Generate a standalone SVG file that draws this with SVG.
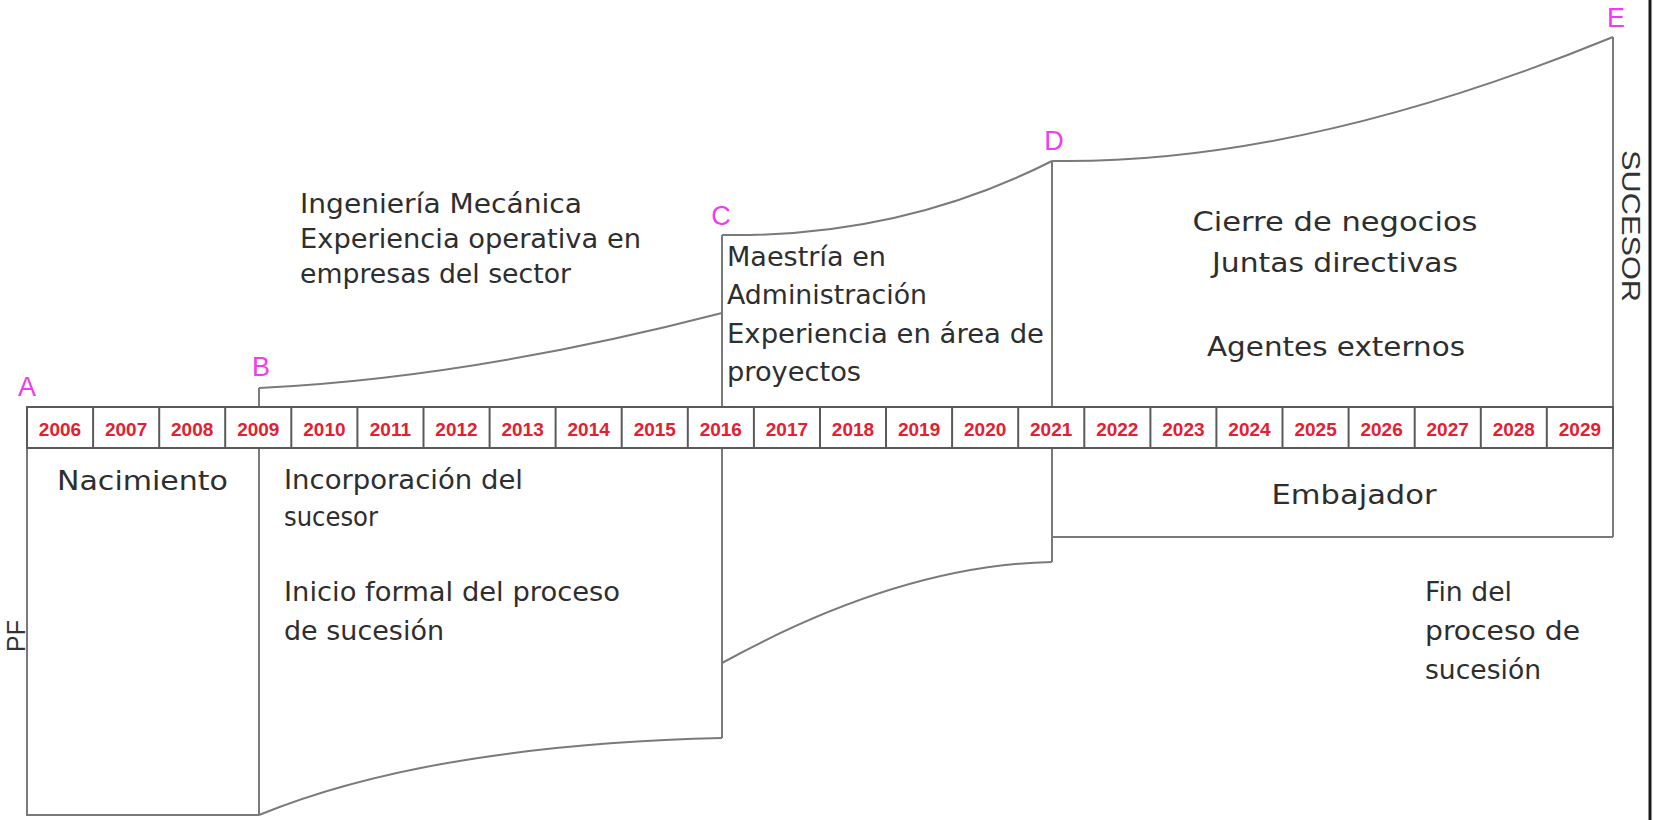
<svg xmlns="http://www.w3.org/2000/svg" width="1653" height="820" viewBox="0 0 1653 820">
<style>
.bg{fill:#ffffff}
.edge{fill:none;stroke:#7a7a7a;stroke-width:2}
.cell{fill:#ffffff;stroke:#5a5a5a;stroke-width:2}
.yr{font-family:"Liberation Sans",Arial,sans-serif;font-size:19px;font-weight:bold;fill:#e3202f;text-anchor:middle}
.pt{font-family:"Liberation Sans",Arial,sans-serif;font-size:27px;fill:#f03cf0;text-anchor:middle}
.tx{font-family:"DejaVu Sans","Liberation Sans",sans-serif;font-size:26px;fill:#2e2e2e}
.mid{text-anchor:middle}
.side{font-family:"Liberation Sans",Arial,sans-serif;font-size:25px;fill:#333333}
</style>
<rect class="bg" x="0" y="0" width="1653" height="820"/>

<g id="connectors">
  <!-- segment A-B -->
  <path class="edge" d="M27,448 V815 H259"/>
  <!-- B vertical -->
  <path class="edge" d="M259,388 V815"/>
  <!-- B-C upper and lower curves -->
  <path class="edge" d="M259,388 Q470,378 722,313"/>
  <path class="edge" d="M259,815 Q430,745 722,738"/>
  <!-- C vertical -->
  <path class="edge" d="M722,235 V738"/>
  <!-- C-D curves -->
  <path class="edge" d="M722,235 Q900,238 1052,161"/>
  <path class="edge" d="M722,663 Q900,565 1052,562"/>
  <!-- D vertical -->
  <path class="edge" d="M1052,161 V562"/>
  <!-- D-E -->
  <path class="edge" d="M1052,161 Q1300,165 1613,37"/>
  <path class="edge" d="M1052,537 H1613"/>
  <!-- E vertical -->
  <path class="edge" d="M1613,37 V537"/>
  <!-- right border -->
  <line x1="1650" y1="0" x2="1650" y2="820" stroke="#1a1a1a" stroke-width="3"/>
</g>

<g id="timeline">
  <rect class="cell" x="27" y="407" width="1586" height="41"/>
  <g stroke="#5a5a5a" stroke-width="2">
    <line x1="93.1" y1="407" x2="93.1" y2="448"/>
    <line x1="159.2" y1="407" x2="159.2" y2="448"/>
    <line x1="225.2" y1="407" x2="225.2" y2="448"/>
    <line x1="291.3" y1="407" x2="291.3" y2="448"/>
    <line x1="357.4" y1="407" x2="357.4" y2="448"/>
    <line x1="423.5" y1="407" x2="423.5" y2="448"/>
    <line x1="489.6" y1="407" x2="489.6" y2="448"/>
    <line x1="555.6" y1="407" x2="555.6" y2="448"/>
    <line x1="621.7" y1="407" x2="621.7" y2="448"/>
    <line x1="687.8" y1="407" x2="687.8" y2="448"/>
    <line x1="753.9" y1="407" x2="753.9" y2="448"/>
    <line x1="820.0" y1="407" x2="820.0" y2="448"/>
    <line x1="886.0" y1="407" x2="886.0" y2="448"/>
    <line x1="952.1" y1="407" x2="952.1" y2="448"/>
    <line x1="1018.2" y1="407" x2="1018.2" y2="448"/>
    <line x1="1084.3" y1="407" x2="1084.3" y2="448"/>
    <line x1="1150.4" y1="407" x2="1150.4" y2="448"/>
    <line x1="1216.4" y1="407" x2="1216.4" y2="448"/>
    <line x1="1282.5" y1="407" x2="1282.5" y2="448"/>
    <line x1="1348.6" y1="407" x2="1348.6" y2="448"/>
    <line x1="1414.7" y1="407" x2="1414.7" y2="448"/>
    <line x1="1480.8" y1="407" x2="1480.8" y2="448"/>
    <line x1="1546.8" y1="407" x2="1546.8" y2="448"/>
  </g>
  <text class="yr" x="60.0" y="436">2006</text>
  <text class="yr" x="126.1" y="436">2007</text>
  <text class="yr" x="192.2" y="436">2008</text>
  <text class="yr" x="258.3" y="436">2009</text>
  <text class="yr" x="324.4" y="436">2010</text>
  <text class="yr" x="390.4" y="436">2011</text>
  <text class="yr" x="456.5" y="436">2012</text>
  <text class="yr" x="522.6" y="436">2013</text>
  <text class="yr" x="588.7" y="436">2014</text>
  <text class="yr" x="654.8" y="436">2015</text>
  <text class="yr" x="720.8" y="436">2016</text>
  <text class="yr" x="786.9" y="436">2017</text>
  <text class="yr" x="853.0" y="436">2018</text>
  <text class="yr" x="919.1" y="436">2019</text>
  <text class="yr" x="985.2" y="436">2020</text>
  <text class="yr" x="1051.2" y="436">2021</text>
  <text class="yr" x="1117.3" y="436">2022</text>
  <text class="yr" x="1183.4" y="436">2023</text>
  <text class="yr" x="1249.5" y="436">2024</text>
  <text class="yr" x="1315.6" y="436">2025</text>
  <text class="yr" x="1381.6" y="436">2026</text>
  <text class="yr" x="1447.7" y="436">2027</text>
  <text class="yr" x="1513.8" y="436">2028</text>
  <text class="yr" x="1579.9" y="436">2029</text>
</g>

<g id="point-A"><text class="pt" x="27" y="396">A</text></g>
<g id="point-B"><text class="pt" x="261" y="376">B</text></g>
<g id="point-C"><text class="pt" x="721" y="225">C</text></g>
<g id="point-D"><text class="pt" x="1054" y="150">D</text></g>
<g id="point-E"><text class="pt" x="1616" y="27">E</text></g>

<g id="segment-AB">
  <text class="tx" x="57" y="490" textLength="171" lengthAdjust="spacingAndGlyphs">Nacimiento</text>
</g>

<g id="segment-BC">
  <text class="tx" x="300" y="213" textLength="282" lengthAdjust="spacingAndGlyphs">Ingeniería Mecánica</text>
  <text class="tx" x="300" y="248" textLength="341" lengthAdjust="spacingAndGlyphs">Experiencia operativa en</text>
  <text class="tx" x="300" y="283" textLength="271" lengthAdjust="spacingAndGlyphs">empresas del sector</text>
  <text class="tx" x="284" y="489" textLength="239" lengthAdjust="spacingAndGlyphs">Incorporación del</text>
  <text class="tx" x="284" y="526" textLength="94" lengthAdjust="spacingAndGlyphs">sucesor</text>
  <text class="tx" x="284" y="601" textLength="336" lengthAdjust="spacingAndGlyphs">Inicio formal del proceso</text>
  <text class="tx" x="284" y="640" textLength="160" lengthAdjust="spacingAndGlyphs">de sucesión</text>
</g>

<g id="segment-CD">
  <text class="tx" x="727" y="266" textLength="159" lengthAdjust="spacingAndGlyphs">Maestría en</text>
  <text class="tx" x="727" y="304" textLength="200" lengthAdjust="spacingAndGlyphs">Administración</text>
  <text class="tx" x="727" y="343" textLength="317" lengthAdjust="spacingAndGlyphs">Experiencia en área de</text>
  <text class="tx" x="727" y="381" textLength="134" lengthAdjust="spacingAndGlyphs">proyectos</text>
</g>

<g id="segment-DE">
  <text class="tx mid" x="1335" y="231" textLength="285" lengthAdjust="spacingAndGlyphs">Cierre de negocios</text>
  <text class="tx mid" x="1335" y="272" textLength="246" lengthAdjust="spacingAndGlyphs">Juntas directivas</text>
  <text class="tx mid" x="1336" y="356" textLength="258" lengthAdjust="spacingAndGlyphs">Agentes externos</text>
  <text class="tx mid" x="1354" y="504" textLength="165" lengthAdjust="spacingAndGlyphs">Embajador</text>
  <text class="tx" x="1425" y="601" textLength="87" lengthAdjust="spacingAndGlyphs">Fin del</text>
  <text class="tx" x="1425" y="640" textLength="155" lengthAdjust="spacingAndGlyphs">proceso de</text>
  <text class="tx" x="1425" y="679" textLength="116" lengthAdjust="spacingAndGlyphs">sucesión</text>
</g>

<g id="axis-labels">
  <text class="side" transform="translate(25,636) rotate(-90)" text-anchor="middle">PF</text>
  <text class="side" transform="translate(1622,226) rotate(90)" text-anchor="middle" textLength="152" lengthAdjust="spacingAndGlyphs">SUCESOR</text>
</g>
</svg>
